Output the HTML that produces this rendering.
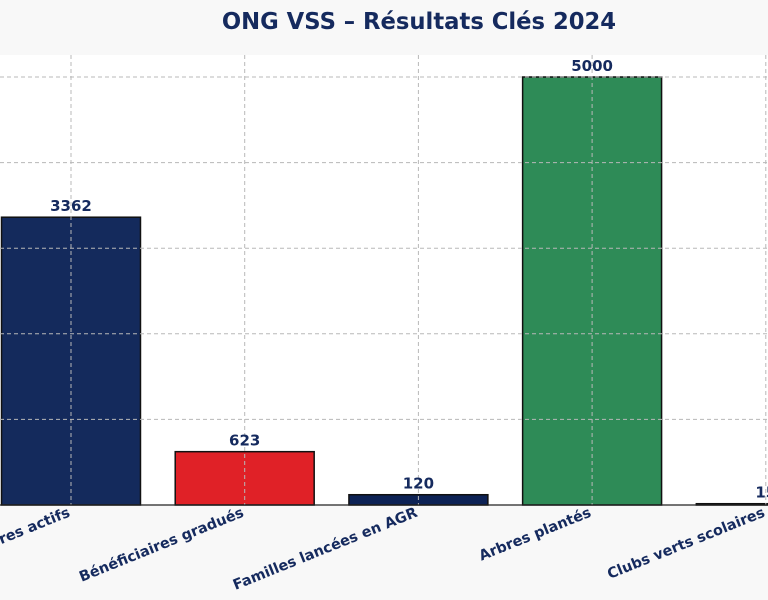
<!DOCTYPE html>
<html><head><meta charset="utf-8">
<style>
html,body{margin:0;padding:0;background:#f8f8f8;}
svg{display:block;font-family:"DejaVu Sans","Liberation Sans",sans-serif;}
</style></head>
<body>
<svg id="chart" width="768" height="600" viewBox="0 0 768 600">
<rect x="0" y="0" width="768" height="600" fill="#f8f8f8"/>
<text x="419" y="29" text-anchor="middle" font-size="22.7" font-weight="bold" fill="#152a5e">ONG VSS – Résultats Clés 2024</text>
<rect x="0" y="55" width="768" height="450" fill="#ffffff"/>
<g id="bars"></g>
<g id="grid"></g>
<g id="labels"></g>
<line x1="0" y1="505" x2="768" y2="505" stroke="#222" stroke-width="1.2"/>
</svg>
<script>
const categories = ["Membres actifs","Bénéficiaires gradués","Familles lancées en AGR","Arbres plantés","Clubs verts scolaires"];
const values = [3362, 623, 120, 5000, 15];
const colors = ["#142a5c","#e02127","#0d2255","#2e8b57","#8b5a2b"];
const gridTicks = [0,1000,2000,3000,4000,5000];

const NS="http://www.w3.org/2000/svg";
const y0=505, yTop=55, yMax=5257;
function yScale(v){return y0-(v/yMax)*(y0-yTop);}
const step=173.7, x0=71;
function xScale(i){return x0+i*step;}
const bw=step*0.8;
function mk(tag,attrs,parent){const e=document.createElementNS(NS,tag);for(const k in attrs)e.setAttribute(k,attrs[k]);parent.appendChild(e);return e;}
const gb=document.getElementById('bars'),gg=document.getElementById('grid'),gl=document.getElementById('labels');
values.forEach((v,i)=>{
  const cx=xScale(i);
  const r=mk('rect',{x:cx-bw/2,y:yScale(v),width:bw,height:y0-yScale(v),fill:colors[i],stroke:"#111","stroke-width":1.5},gb);
  
  
  const t=mk('text',{x:cx,y:yScale(v)-6,"text-anchor":"middle","font-size":15,"font-weight":"bold",fill:"#152a5e"},gl);
  t.textContent=String(v);
  
  
  const ly=516;
  const c=mk('text',{x:cx,y:ly,"text-anchor":"end","font-size":14.4,"font-weight":"bold",fill:"#152a5e",transform:`rotate(-22 ${cx} ${ly})`},gl);
  c.textContent=categories[i];
  
  
  const vl=mk('line',{x1:cx,y1:yTop,x2:cx,y2:y0,stroke:"#b8b8b8","stroke-dasharray":"4,3","stroke-width":1},gg);
  
  
});
gridTicks.forEach((t,i)=>{
  if(t===0)return;
  const l=mk('line',{x1:0,y1:yScale(t),x2:768,y2:yScale(t),stroke:"#b8b8b8","stroke-dasharray":"4,3","stroke-width":1},gg);
  
  
});
</script>
</body></html>
